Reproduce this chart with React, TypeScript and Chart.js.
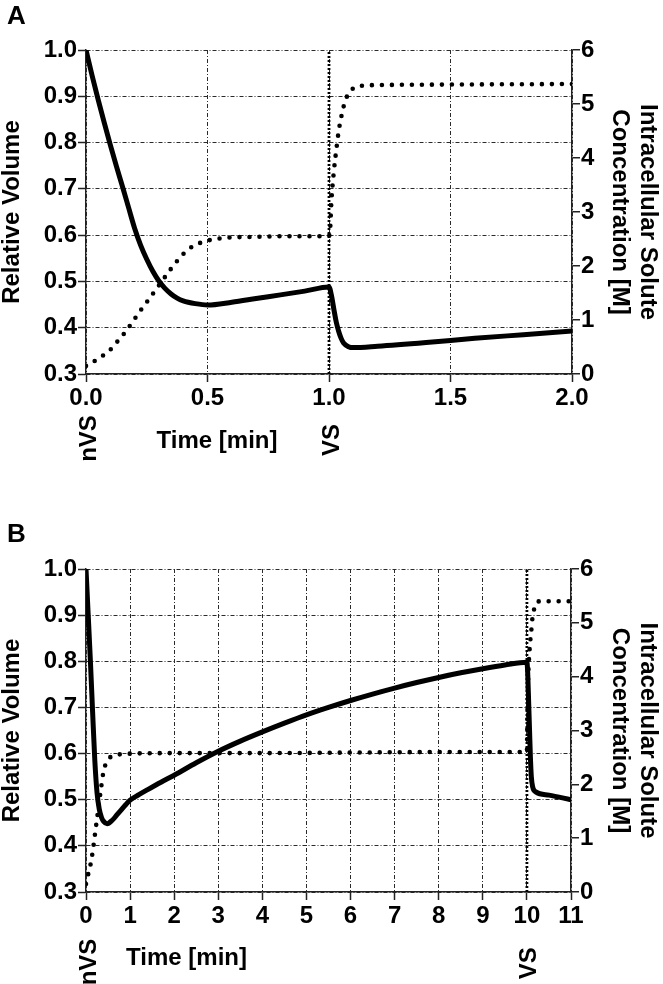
import React, { useEffect, useRef } from 'react';
import { Chart, registerables } from 'chart.js';

Chart.register(...registerables);

// ---------- Panel A data ----------
const volTimeA = [0, 0.025, 0.05, 0.075, 0.1, 0.125, 0.15, 0.175, 0.2, 0.225, 0.25, 0.275, 0.3, 0.325, 0.35, 0.375, 0.4, 0.45, 0.5, 0.6, 0.7, 0.8, 0.9, 1.0, 1.01, 1.02, 1.03, 1.04, 1.05, 1.06, 1.08, 1.1, 1.2, 1.4, 1.6, 1.8, 2.0];
const volA = [1.0, 0.945, 0.893, 0.843, 0.795, 0.749, 0.705, 0.66, 0.615, 0.578, 0.548, 0.522, 0.501, 0.485, 0.473, 0.464, 0.458, 0.452, 0.449, 0.455, 0.463, 0.471, 0.479, 0.488, 0.47, 0.44, 0.412, 0.392, 0.377, 0.367, 0.359, 0.357, 0.36, 0.368, 0.377, 0.385, 0.393];
const concTimeA = [0, 0.035, 0.066, 0.1, 0.125, 0.15, 0.175, 0.2, 0.225, 0.25, 0.3, 0.35, 0.4, 0.425, 0.45, 0.5, 0.55, 0.6, 0.7, 0.8, 0.9, 1.0, 1.005, 1.01, 1.02, 1.03, 1.04, 1.05, 1.06, 1.07, 1.09, 1.12, 1.2, 1.5, 2.0];
const concA = [0.15, 0.24, 0.33, 0.45, 0.58, 0.71, 0.86, 1.02, 1.18, 1.33, 1.64, 1.95, 2.22, 2.32, 2.39, 2.47, 2.51, 2.53, 2.54, 2.55, 2.55, 2.56, 2.7, 3.2, 3.75, 4.15, 4.5, 4.75, 4.95, 5.1, 5.25, 5.33, 5.35, 5.36, 5.37];
const vsTimeA = 1.0;
const xTicksA = [0, 0.5, 1.0, 1.5, 2.0];

// ---------- Panel B data ----------
const volTimeB = [0, 0.05, 0.1, 0.15, 0.2, 0.25, 0.3, 0.35, 0.4, 0.48, 0.6, 0.7, 0.8, 0.9, 1.0, 1.2, 1.4, 1.7, 2, 2.5, 3, 3.5, 4, 4.5, 5, 5.5, 6, 6.5, 7, 7.5, 8, 8.5, 9, 9.5, 10, 10.02, 10.04, 10.06, 10.08, 10.1, 10.13, 10.2, 10.5, 11];
const volB = [1.0, 0.9, 0.8, 0.69, 0.585, 0.515, 0.48, 0.462, 0.453, 0.448, 0.456, 0.467, 0.478, 0.489, 0.499, 0.511, 0.522, 0.538, 0.553, 0.58, 0.605, 0.627, 0.647, 0.666, 0.684, 0.7, 0.715, 0.729, 0.742, 0.754, 0.765, 0.775, 0.784, 0.792, 0.798, 0.77, 0.71, 0.65, 0.59, 0.55, 0.528, 0.517, 0.51, 0.5];
const concTimeB = [0, 0.05, 0.1, 0.15, 0.2, 0.25, 0.3, 0.35, 0.4, 0.45, 0.5, 0.6, 0.8, 1, 2, 4, 6, 8, 10, 10.01, 10.03, 10.06, 10.08, 10.1, 10.12, 10.15, 10.2, 10.3, 10.5, 11];
const concB = [0.15, 0.33, 0.5, 0.74, 1.05, 1.36, 1.67, 1.98, 2.25, 2.38, 2.46, 2.53, 2.56, 2.57, 2.58, 2.58, 2.59, 2.6, 2.6, 3.2, 4.0, 4.49, 4.7, 4.86, 5.05, 5.2, 5.36, 5.4, 5.4, 5.4];
const vsTimeB = 10;
const xTicksB = [0, 1, 2, 3, 4, 5, 6, 7, 8, 9, 10, 11];

// ---------- shared axes ----------
const volumeTicks = [0.3, 0.4, 0.5, 0.6, 0.7, 0.8, 0.9, 1.0];
const concTicks = [0, 1, 2, 3, 4, 5, 6];
const leftTitle = 'Relative Volume';
const rightTitle = ['Intracellular Solute', 'Concentration [M]'];
const xTitle = 'Time [min]';

const FONT = '"Liberation Sans", Arial, Helvetica, sans-serif';

const pts = (xs: number[], ys: number[]) => xs.map((x, i) => ({ x, y: ys[i] }));

type Panel = {
  letter: string;
  height: number;
  padTop: number;
  xAxisHeight: number;
  rightWidth: number;
  volT: number[];
  vol: number[];
  concT: number[];
  conc: number[];
  vs: number;
  xTicks: number[];
  xDecimals: number;
  letterBase: number;
  nvsDy: number;
  vsDy: number;
  timeX: number;
  timeDy: number;
};

const panels: Panel[] = [
  {
    letter: 'A', height: 480, padTop: 50, xAxisHeight: 106, rightWidth: 91,
    volT: volTimeA, vol: volA, concT: concTimeA, conc: concA, vs: vsTimeA,
    xTicks: xTicksA, xDecimals: 1, letterBase: 23.5, nvsDy: 64.5, vsDy: 66, timeX: 217, timeDy: 73.7,
  },
  {
    letter: 'B', height: 504, padTop: 89, xAxisHeight: 92, rightWidth: 92,
    volT: volTimeB, vol: volB, concT: concTimeB, conc: concB, vs: vsTimeB,
    xTicks: xTicksB, xDecimals: 0, letterBase: 62, nvsDy: 70, vsDy: 71.3, timeX: 186.5, timeDy: 73.3,
  },
];

const GRID = '#2a2a2a';
const AXIS = '#222';

function buildChart(canvas: HTMLCanvasElement, p: Panel) {
  const textPlugin = {
    id: 'panelText' + p.letter,
    afterDraw(chart: any) {
      const ctx = chart.ctx as CanvasRenderingContext2D;
      const a = chart.chartArea;
      const xs = chart.scales.x;
      const cy = (a.top + a.bottom) / 2;
      ctx.save();
      ctx.fillStyle = '#000';
      ctx.textBaseline = 'alphabetic';
      // panel letter
      ctx.font = `bold 26px ${FONT}`;
      ctx.textAlign = 'left';
      ctx.fillText(p.letter, 7, p.letterBase);
      ctx.font = `bold 24px ${FONT}`;
      ctx.textAlign = 'center';
      // left title
      ctx.save();
      ctx.translate(19, cy);
      ctx.rotate(-Math.PI / 2);
      ctx.fillText(leftTitle, 0, 0);
      ctx.restore();
      // right title (two lines)
      ctx.save();
      ctx.translate(641, cy);
      ctx.rotate(Math.PI / 2);
      ctx.fillText(rightTitle[0], 0, 0);
      ctx.restore();
      ctx.save();
      ctx.translate(613, cy);
      ctx.rotate(Math.PI / 2);
      ctx.fillText(rightTitle[1], 0, 0);
      ctx.restore();
      // nVS and VS markers
      const x0 = xs.getPixelForValue(p.xTicks[0]);
      ctx.save();
      ctx.translate(x0 + 9.5, a.bottom + p.nvsDy);
      ctx.rotate(-Math.PI / 2);
      ctx.fillText('nVS', 0, 0);
      ctx.restore();
      const xv = xs.getPixelForValue(p.vs);
      ctx.save();
      ctx.translate(xv + 9.5, a.bottom + p.vsDy);
      ctx.rotate(-Math.PI / 2);
      ctx.fillText('VS', 0, 0);
      ctx.restore();
      // x title
      ctx.fillText(xTitle, p.timeX, a.bottom + p.timeDy);
      ctx.restore();
    },
  };

  const tickFont = { family: FONT, size: 24, weight: 'bold' as const };

  return new Chart(canvas, {
    type: 'line',
    data: {
      datasets: [
        {
          data: pts(p.volT, p.vol),
          yAxisID: 'y',
          borderColor: '#000',
          borderWidth: 5,
          borderJoinStyle: 'round',
          borderCapStyle: 'round',
          pointRadius: 0,
          cubicInterpolationMode: 'monotone',
        },
        {
          data: pts(p.concT, p.conc),
          yAxisID: 'y2',
          borderColor: '#000',
          borderWidth: 4.6,
          borderDash: [0, 10],
          borderCapStyle: 'round',
          pointRadius: 0,
          cubicInterpolationMode: 'monotone',
        },
        {
          data: pts([p.vs, p.vs], [concTicks[0], concTicks[concTicks.length - 1]]),
          yAxisID: 'y2',
          borderColor: '#000',
          borderWidth: 2.8,
          borderDash: [2, 2],
          pointRadius: 0,
          tension: 0,
        },
      ],
    },
    options: {
      animation: false,
      responsive: false,
      maintainAspectRatio: false,
      devicePixelRatio: 1,
      layout: { padding: { top: p.padTop, left: 0, right: 0, bottom: 0 } },
      plugins: { legend: { display: false }, tooltip: { enabled: false } },
      scales: {
        x: {
          type: 'linear',
          min: p.xTicks[0],
          max: p.xTicks[p.xTicks.length - 1],
          afterBuildTicks: (s: any) => { s.ticks = p.xTicks.map((v) => ({ value: v })); },
          afterFit: (s: any) => { s.height = p.xAxisHeight; },
          ticks: {
            font: tickFont, color: '#000', padding: 2, maxRotation: 0, autoSkip: false,
            callback: (v: any) => Number(v).toFixed(p.xDecimals),
          },
          grid: { color: GRID, lineWidth: 1, tickLength: 8, tickColor: AXIS, tickWidth: 1.5 },
          border: { color: AXIS, width: 1.5, dash: [4, 2, 1, 2] },
        },
        y: {
          type: 'linear',
          position: 'left',
          min: volumeTicks[0],
          max: volumeTicks[volumeTicks.length - 1],
          afterBuildTicks: (s: any) => { s.ticks = volumeTicks.map((v) => ({ value: v })); },
          afterFit: (s: any) => { s.width = 86; },
          ticks: {
            font: tickFont, color: '#000', padding: 1, autoSkip: false,
            callback: (v: any) => Number(v).toFixed(1),
          },
          grid: { color: GRID, lineWidth: 1, tickLength: 8, tickColor: AXIS, tickWidth: 1.5 },
          border: { color: AXIS, width: 1.5, dash: [4, 2, 1, 2] },
        },
        y2: {
          type: 'linear',
          position: 'right',
          min: concTicks[0],
          max: concTicks[concTicks.length - 1],
          afterBuildTicks: (s: any) => { s.ticks = concTicks.map((v) => ({ value: v })); },
          afterFit: (s: any) => { s.width = p.rightWidth; },
          ticks: {
            font: tickFont, color: '#000', padding: 1, autoSkip: false,
            callback: (v: any) => String(v),
          },
          grid: { drawOnChartArea: false, color: AXIS, lineWidth: 1.5, tickLength: 8 },
          border: { color: AXIS, width: 1.5 },
        },
      },
    },
    plugins: [textPlugin],
  } as any);
}

function PanelChart({ p }: { p: Panel }) {
  const ref = useRef<HTMLCanvasElement | null>(null);
  useEffect(() => {
    if (!ref.current) return;
    const chart = buildChart(ref.current, p);
    return () => chart.destroy();
  }, [p]);
  return (
    <canvas
      ref={ref}
      width={663}
      height={p.height}
      style={{ display: 'block', width: 663, height: p.height }}
    />
  );
}

export default function App() {
  return (
    <div style={{ position: 'absolute', left: 0, top: 0, width: 663, height: 984, background: '#fff' }}>
      {panels.map((p) => (
        <PanelChart key={p.letter} p={p} />
      ))}
    </div>
  );
}
